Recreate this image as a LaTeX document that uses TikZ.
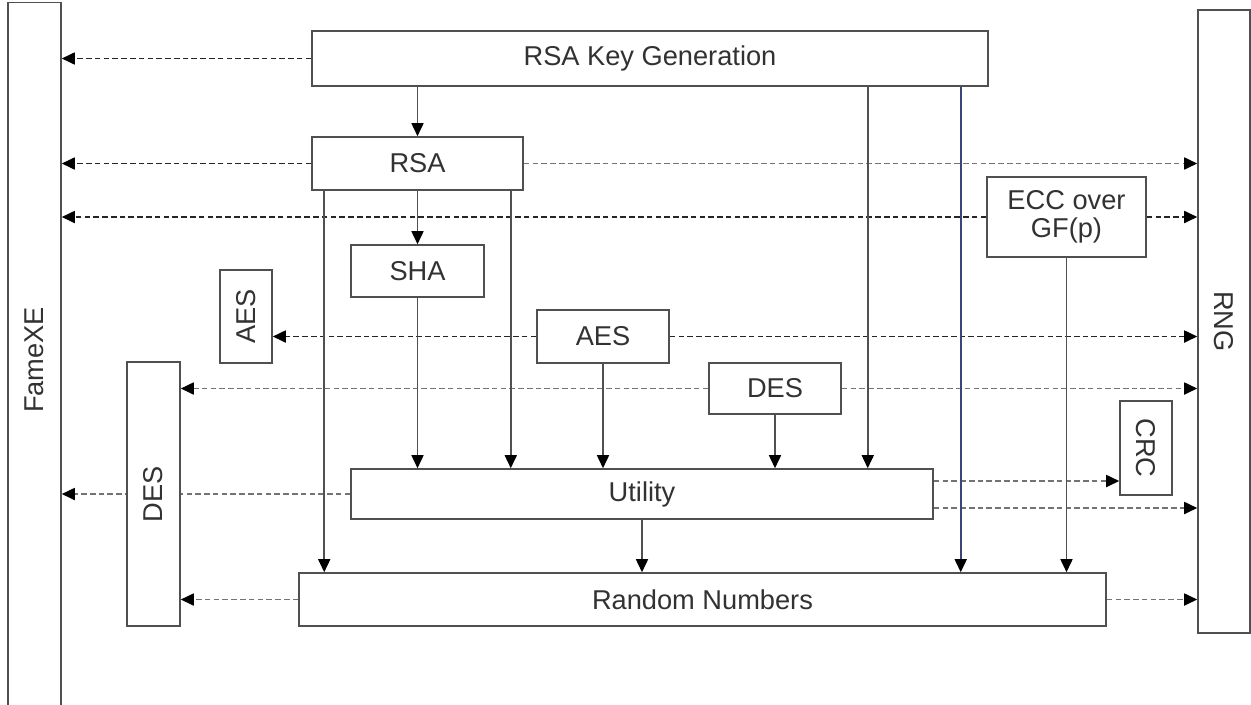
\documentclass[tikz,border=0pt]{standalone}
\usepackage{fontspec}
\setmainfont{Liberation Sans}
\usepackage{graphicx}
\usetikzlibrary{arrows.meta,backgrounds}

\definecolor{boxline}{RGB}{80,80,80}
\definecolor{txt}{RGB}{50,50,50}
\definecolor{navyline}{RGB}{60,68,120}

\tikzset{
  blk/.style={draw=boxline, fill=white, line width=0.9pt, inner sep=0pt, text=txt,
    font=\fontsize{15.5}{16}\selectfont},
  call/.style={->, line width=1pt, dash pattern=on 3.2pt off 1.8pt, draw=black!85},
  callgray/.style={call, draw=black!55},
  feed/.style={->, line width=0.9pt, draw=boxline},
}

\begin{document}
\begin{tikzpicture}[x=0.02cm, y=-0.02cm, >={Triangle[length=2.6mm,width=2.4mm,color=black]}]
\useasboundingbox (0,0) rectangle (1251,704);
\clip (0,0) rectangle (1251,704);

% side blocks
\node[blk, minimum width=1.06cm, minimum height=14.3cm] (fame) at (34.5,360) {\rotatebox{90}{FameXE}};
\node[blk, minimum width=1.04cm, minimum height=12.46cm] (rng) at (1224,321.5) {\rotatebox{-90}{RNG}};

% modules
\node[blk, minimum width=13.52cm, minimum height=1.1cm] (keygen) at (650,58.5) {RSA Key Generation};
\node[blk, minimum width=4.22cm, minimum height=1.06cm] (rsa) at (417.5,163.5) {RSA};
\node[blk, minimum width=2.66cm, minimum height=1.04cm] (sha) at (417.5,271) {SHA};
\node[blk, minimum width=3.18cm, minimum height=1.6cm, align=center] (ecc) at (1066.5,217) {ECC over\\GF(p)};
\node[blk, minimum width=1.04cm, minimum height=1.86cm] (aesl) at (246,316.5) {\rotatebox{90}{AES}};
\node[blk, minimum width=2.64cm, minimum height=1.06cm] (aesm) at (603,336.5) {AES};
\node[blk, minimum width=2.64cm, minimum height=1.02cm] (desm) at (775,388.5) {DES};
\node[blk, minimum width=1.06cm, minimum height=5.28cm] (desl) at (153.5,494) {\rotatebox{90}{DES}};
\node[blk, minimum width=1.04cm, minimum height=1.88cm] (crc) at (1146,448) {\rotatebox{-90}{CRC}};
\node[blk, minimum width=11.64cm, minimum height=1cm] (util) at (642,494) {Utility};
\node[blk, minimum width=16.14cm, minimum height=1.06cm] (rand) at (702.5,599.5) {Random Numbers};

\coordinate (u1) at ([yshift=0.26cm]util.east);
\coordinate (u2) at ([yshift=-0.28cm]util.east);
\coordinate (r1) at ([xshift=0.26cm]rsa.south west);
\coordinate (r2) at ([xshift=-0.26cm]rsa.south east);
\coordinate (k1) at ([xshift=-2.42cm]keygen.south east);
\coordinate (k2) at ([xshift=-0.56cm]keygen.south east);

\begin{scope}[on background layer]
% dashed calls
\draw[call] (keygen.west) -- (keygen.west -| fame.east);
\draw[call] (rsa.west) -- (rsa.west -| fame.east);
\draw[call] (ecc.west) -- (ecc.west -| fame.east);
\draw[callgray] (util.west) -- (util.west -| fame.east);
\draw[call] (aesm.west) -- (aesm.west -| aesl.east);
\draw[callgray] (desm.west) -- (desm.west -| desl.east);
\draw[callgray] (rand.west) -- (rand.west -| desl.east);
\draw[callgray] (rsa.east) -- (rsa.east -| rng.west);
\draw[call] (ecc.east) -- (ecc.east -| rng.west);
\draw[call] (aesm.east) -- (aesm.east -| rng.west);
\draw[callgray] (desm.east) -- (desm.east -| rng.west);
\draw[callgray] (u1) -- (u1 -| crc.west);
\draw[callgray] (u2) -- (u2 -| rng.west);
\draw[callgray] (rand.east) -- (rand.east -| rng.west);
\end{scope}

% solid feeds
\draw[feed] (rsa.north |- keygen.south) -- (rsa.north);
\draw[feed] (rsa.south) -- (sha.north);
\draw[feed] (sha.south) -- (sha.south |- util.north);
\draw[feed] (r1) -- (r1 |- rand.north);
\draw[feed] (r2) -- (r2 |- util.north);
\draw[feed] (aesm.south) -- (aesm.south |- util.north);
\draw[feed] (desm.south) -- (desm.south |- util.north);
\draw[feed] (k1) -- (k1 |- util.north);
\draw[feed, draw=navyline] (k2) -- (k2 |- rand.north);
\draw[feed] (util.south) -- (util.south |- rand.north);
\draw[feed] (ecc.south) -- (ecc.south |- rand.north);
\end{tikzpicture}
\end{document}
